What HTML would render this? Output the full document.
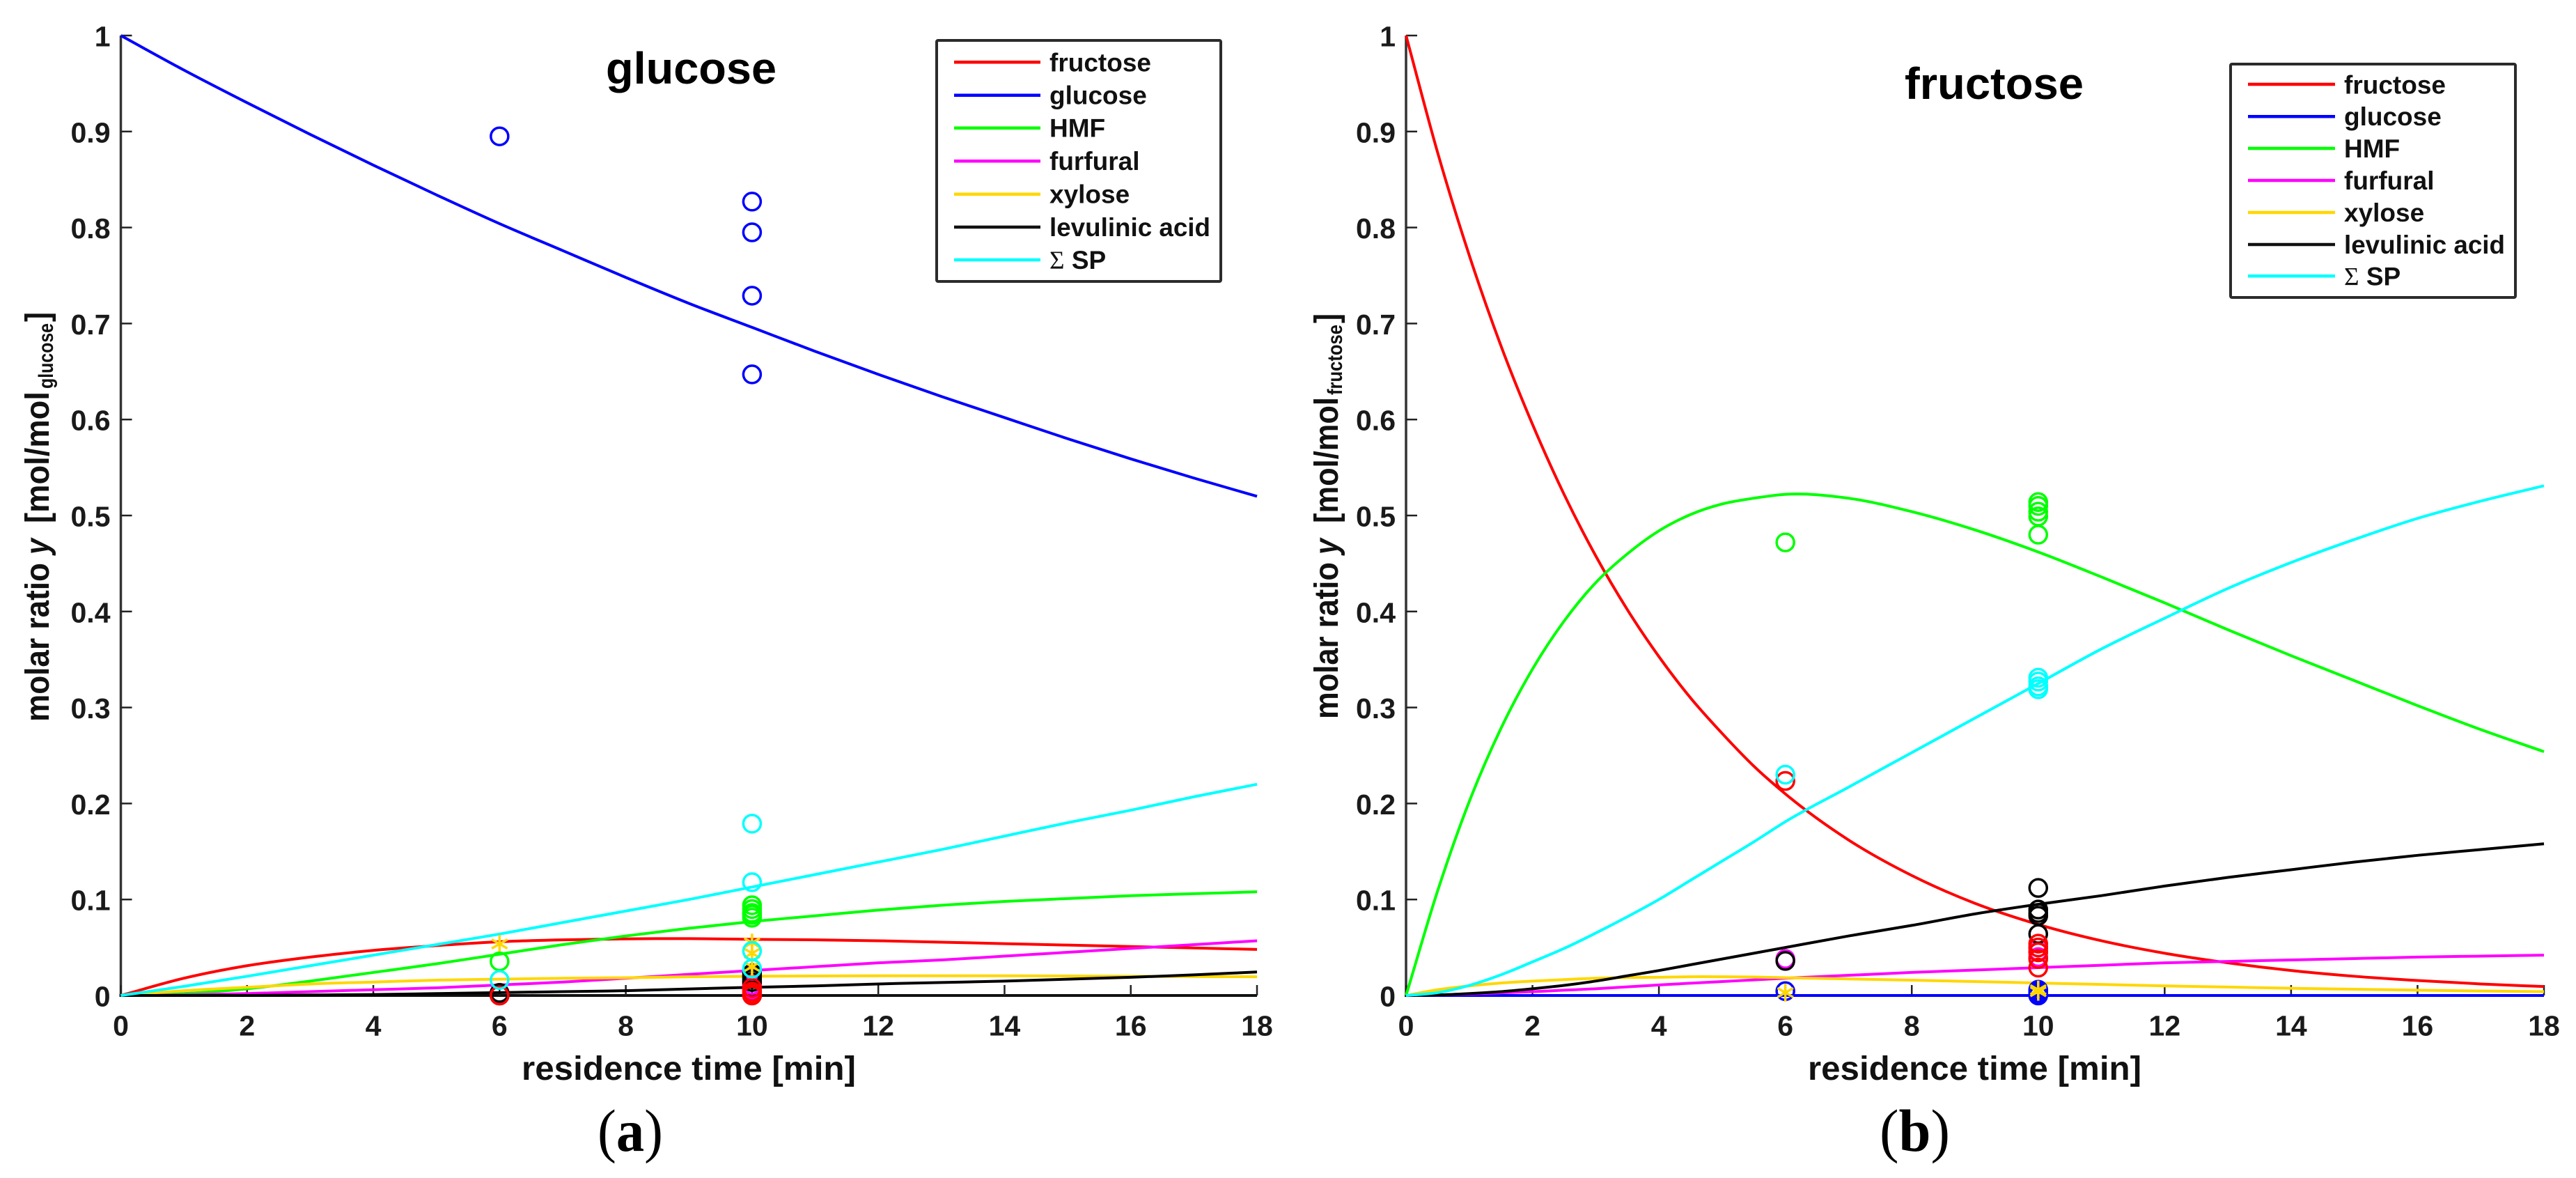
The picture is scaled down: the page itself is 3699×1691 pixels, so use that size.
<!DOCTYPE html>
<html lang="en">
<head>
<meta charset="utf-8">
<title>Molar ratio versus residence time: glucose and fructose</title>
<style>
html,body{margin:0;padding:0;background:#fff;}
svg{display:block;}
text{font-family:"Liberation Sans",sans-serif;font-weight:bold;fill:#111;}
.leg{font-size:37px;}
.title{font-size:64px;fill:#000;}
.axt{font-size:48px;}
.cap{font-family:"Liberation Serif",serif;font-size:86px;fill:#000;font-weight:normal;}
.cap .b{font-weight:bold;}
.tick{font-size:41px;fill:#1a1a1a;}
.sig{font-family:"Liberation Serif",serif;font-weight:normal;}
.legbox{fill:#fff;stroke:#2b2b2b;stroke-width:4;}
.legline{stroke-width:4.5;}
</style>
</head>
<body>
<svg id="fig" xmlns="http://www.w3.org/2000/svg" width="3699" height="1691" viewBox="0 0 3699 1691">
<rect width="3699" height="1691" fill="#fff"/>
<g id="panel-a"></g>
<g id="panel-b"></g>

<text class="title" x="870" y="120" textLength="245" lengthAdjust="spacingAndGlyphs">glucose</text>
<text class="title" x="2735" y="142" textLength="257" lengthAdjust="spacingAndGlyphs">fructose</text>

<text class="axt" x="749" y="1550" textLength="480" lengthAdjust="spacingAndGlyphs">residence time [min]</text>
<text class="axt" x="2596" y="1550" textLength="479" lengthAdjust="spacingAndGlyphs">residence time [min]</text>

<g>
<text class="axt" transform="translate(70,1036) rotate(-90)" textLength="228" lengthAdjust="spacingAndGlyphs">molar ratio</text>
<text class="axt" font-style="italic" transform="translate(70,796) rotate(-90)" textLength="23" lengthAdjust="spacingAndGlyphs">y</text>
<text class="axt" transform="translate(70,751) rotate(-90)" textLength="189" lengthAdjust="spacingAndGlyphs">[mol/mol</text>
<text transform="translate(76,558) rotate(-90)" font-size="30" textLength="94" lengthAdjust="spacingAndGlyphs">glucose</text>
<text class="axt" transform="translate(70,462) rotate(-90)" textLength="14" lengthAdjust="spacingAndGlyphs">]</text>
</g>
<g>
<text class="axt" transform="translate(1921,1032) rotate(-90)" textLength="225" lengthAdjust="spacingAndGlyphs">molar ratio</text>
<text class="axt" font-style="italic" transform="translate(1921,796) rotate(-90)" textLength="23" lengthAdjust="spacingAndGlyphs">y</text>
<text class="axt" transform="translate(1921,751) rotate(-90)" textLength="181" lengthAdjust="spacingAndGlyphs">[mol/mol</text>
<text transform="translate(1927,567) rotate(-90)" font-size="30" textLength="101" lengthAdjust="spacingAndGlyphs">fructose</text>
<text class="axt" transform="translate(1921,464) rotate(-90)" textLength="14" lengthAdjust="spacingAndGlyphs">]</text>
</g>

<g>
<rect class="legbox" x="1345" y="58" width="408" height="346" rx="2"/>
<g><line class="legline" x1="1370" x2="1494" y1="89.3" y2="89.3" stroke="#ff0000"/><text class="leg" x="1507" y="102.5">fructose</text></g>
<g><line class="legline" x1="1370" x2="1494" y1="136.7" y2="136.7" stroke="#0000ff"/><text class="leg" x="1507" y="149.5">glucose</text></g>
<g><line class="legline" x1="1370" x2="1494" y1="183.7" y2="183.7" stroke="#00ff00"/><text class="leg" x="1507" y="196.5">HMF</text></g>
<g><line class="legline" x1="1370" x2="1494" y1="231.3" y2="231.3" stroke="#ff00ff"/><text class="leg" x="1507" y="244">furfural</text></g>
<g><line class="legline" x1="1370" x2="1494" y1="278.7" y2="278.7" stroke="#ffd700"/><text class="leg" x="1507" y="291.5">xylose</text></g>
<g><line class="legline" x1="1370" x2="1494" y1="326" y2="326" stroke="#111"/><text class="leg" x="1507" y="339" textLength="231" lengthAdjust="spacingAndGlyphs">levulinic acid</text></g>
<g><line class="legline" x1="1370" x2="1494" y1="373" y2="373" stroke="#00ffff"/><text class="leg" x="1507" y="386"><tspan class="sig">Σ</tspan> SP</text></g>
</g>

<g>
<rect class="legbox" x="3203" y="92" width="409" height="335" rx="2"/>
<g><line class="legline" x1="3228" x2="3353" y1="121" y2="121" stroke="#ff0000"/><text class="leg" x="3366" y="134.5">fructose</text></g>
<g><line class="legline" x1="3228" x2="3353" y1="167.3" y2="167.3" stroke="#0000ff"/><text class="leg" x="3366" y="180">glucose</text></g>
<g><line class="legline" x1="3228" x2="3353" y1="213" y2="213" stroke="#00ff00"/><text class="leg" x="3366" y="226">HMF</text></g>
<g><line class="legline" x1="3228" x2="3353" y1="259" y2="259" stroke="#ff00ff"/><text class="leg" x="3366" y="272">furfural</text></g>
<g><line class="legline" x1="3228" x2="3353" y1="305" y2="305" stroke="#ffd700"/><text class="leg" x="3366" y="318">xylose</text></g>
<g><line class="legline" x1="3228" x2="3353" y1="351" y2="351" stroke="#111"/><text class="leg" x="3366" y="364" textLength="231" lengthAdjust="spacingAndGlyphs">levulinic acid</text></g>
<g><line class="legline" x1="3228" x2="3353" y1="396.3" y2="396.3" stroke="#00ffff"/><text class="leg" x="3366" y="409.5"><tspan class="sig">Σ</tspan> SP</text></g>
</g>

<text class="cap" x="858" y="1652" textLength="94" lengthAdjust="spacingAndGlyphs">(<tspan class="b">a</tspan>)</text>
<text class="cap" x="2699" y="1652" textLength="101" lengthAdjust="spacingAndGlyphs">(<tspan class="b">b</tspan>)</text>
</svg>

<script>
// ---- axis tick data ----
const xTickValues = [0, 2, 4, 6, 8, 10, 12, 14, 16, 18];
const xTickLabels = ['0', '2', '4', '6', '8', '10', '12', '14', '16', '18'];
const yTickValues = [0, 0.1, 0.2, 0.3, 0.4, 0.5, 0.6, 0.7, 0.8, 0.9, 1];
const yTickLabels = ['0', '0.1', '0.2', '0.3', '0.4', '0.5', '0.6', '0.7', '0.8', '0.9', '1'];

// ---- panel (a) glucose feed: model curves ----
const aTimes = [0, 1, 2, 3, 4, 5, 6, 7, 8, 9, 10, 11, 12, 13, 14, 15, 16, 17, 18];
const aFructose = [0, 0.018, 0.031, 0.040, 0.047, 0.052, 0.056, 0.058, 0.059, 0.0592, 0.0585, 0.058, 0.057, 0.0555, 0.054, 0.0525, 0.051, 0.0495, 0.048];
const aGlucose = [1, 0.964, 0.930, 0.897, 0.865, 0.834, 0.804, 0.776, 0.748, 0.721, 0.696, 0.671, 0.647, 0.624, 0.602, 0.580, 0.559, 0.539, 0.520];
const aHmf = [0, 0.002, 0.007, 0.015, 0.024, 0.033, 0.043, 0.053, 0.062, 0.070, 0.077, 0.083, 0.089, 0.094, 0.098, 0.101, 0.104, 0.106, 0.108];
const aFurfural = [0, 0.0005, 0.002, 0.004, 0.006, 0.008, 0.011, 0.014, 0.018, 0.022, 0.026, 0.030, 0.034, 0.037, 0.041, 0.045, 0.049, 0.053, 0.057];
const aXylose = [0, 0.005, 0.0085, 0.012, 0.014, 0.016, 0.017, 0.018, 0.0185, 0.0195, 0.020, 0.0203, 0.0205, 0.0205, 0.0205, 0.0203, 0.020, 0.0197, 0.0195];
const aLevulinic = [0, 0, 0, 0.0005, 0.001, 0.002, 0.003, 0.004, 0.005, 0.0068, 0.0085, 0.010, 0.012, 0.0135, 0.015, 0.017, 0.019, 0.0215, 0.0245];
const aSumSp = [0, 0.0095, 0.020, 0.031, 0.042, 0.053, 0.064, 0.076, 0.088, 0.100, 0.113, 0.126, 0.139, 0.152, 0.166, 0.180, 0.193, 0.207, 0.220];

// ---- panel (a) measured points, one list per residence time ----
const observationTimes = [6, 10];
const aObsFurfural = [[0.002], [0.011, 0.006]];
const aObsLevulinic = [[0.0027, 0.0], [0.023, 0.020, 0.017, 0.014]];
const aObsGlucose = [[0.895], [0.827, 0.795, 0.729, 0.647]];
const aObsXylose = [[0.0537], [0.055, 0.044, 0.030]];
const aObsFructose = [[0.0], [0.008, 0.004, 0.0015, 0]];
const aObsHmf = [[0.0355], [0.094, 0.090, 0.086, 0.084, 0.081]];
const aObsSumSp = [[0.0162], [0.179, 0.118, 0.0464, 0.028]];

// ---- panel (b) fructose feed: model curves ----
const bTimes = [0, 0.5, 1, 1.5, 2, 2.5, 3, 3.5, 4, 4.5, 5, 5.5, 6, 7, 8, 9, 10, 11, 12, 13, 14, 15, 16, 17, 18];
const bFructose = [1, 0.878, 0.771, 0.677, 0.595, 0.522, 0.458, 0.402, 0.353, 0.310, 0.273, 0.239, 0.210, 0.162, 0.125, 0.096, 0.074, 0.057, 0.044, 0.034, 0.026, 0.020, 0.0156, 0.012, 0.0093];
const bGlucose = [0, 0, 0, 0, 0, 0, 0, 0, 0, 0, 0, 0, 0, 0, 0, 0, 0, 0, 0, 0, 0, 0, 0, 0, 0];
const bHmf = [0, 0.109, 0.202, 0.278, 0.340, 0.390, 0.430, 0.460, 0.484, 0.501, 0.512, 0.518, 0.522, 0.518, 0.504, 0.485, 0.462, 0.436, 0.409, 0.381, 0.354, 0.328, 0.302, 0.277, 0.254];
const bFurfural = [0, 0.0005, 0.0015, 0.0028, 0.004, 0.0055, 0.007, 0.009, 0.011, 0.0128, 0.0145, 0.0162, 0.018, 0.021, 0.024, 0.0265, 0.029, 0.0315, 0.034, 0.0355, 0.037, 0.0385, 0.040, 0.041, 0.042];
const bXylose = [0, 0.006, 0.010, 0.013, 0.015, 0.0165, 0.018, 0.0187, 0.019, 0.0195, 0.0195, 0.0192, 0.0185, 0.0172, 0.016, 0.0145, 0.013, 0.0115, 0.010, 0.0088, 0.0075, 0.0065, 0.0055, 0.0047, 0.004];
const bLevulinic = [0, 0.0005, 0.002, 0.004, 0.007, 0.0105, 0.015, 0.0205, 0.026, 0.032, 0.038, 0.044, 0.050, 0.062, 0.073, 0.085, 0.095, 0.104, 0.114, 0.123, 0.131, 0.139, 0.146, 0.152, 0.158];
const bSumSp = [0, 0.003, 0.0105, 0.0215, 0.035, 0.049, 0.065, 0.082, 0.100, 0.120, 0.140, 0.160, 0.181, 0.217, 0.253, 0.289, 0.325, 0.361, 0.393, 0.424, 0.451, 0.475, 0.497, 0.515, 0.531];

// ---- panel (b) measured points ----
const bObsFurfural = [[0.038], [0.050, 0.046, 0.040]];
const bObsLevulinic = [[0.036], [0.112, 0.0895, 0.086, 0.083, 0.064]];
const bObsGlucose = [[0.0045], [0.006, 0.004, 0.002, 0.001, 0]];
const bObsXylose = [[0.003], [0.006, 0.004]];
const bObsFructose = [[0.2235], [0.054, 0.050, 0.045, 0.038, 0.029]];
const bObsHmf = [[0.472], [0.514, 0.510, 0.504, 0.499, 0.480]];
const bObsSumSp = [[0.230], [0.331, 0.327, 0.322, 0.319]];

// ---- series colours ----
const colorFructose = '#ff0000';
const colorGlucose = '#0000ff';
const colorHmf = '#00ff00';
const colorFurfural = '#ff00ff';
const colorXylose = '#ffd700';
const colorLevulinic = '#000000';
const colorSumSp = '#00ffff';

const SVGNS = 'http://www.w3.org/2000/svg';

function mk(parent, tag, attrs) {
  const el = document.createElementNS(SVGNS, tag);
  for (const k in attrs) el.setAttribute(k, attrs[k]);
  parent.appendChild(el);
  return el;
}

function smoothPath(xs, ys) {
  // cubic Hermite through the read values, spacing-weighted tangents
  const n = xs.length;
  const slope = [];
  for (let i = 0; i < n; i++) {
    if (i === 0) {
      slope.push((ys[1] - ys[0]) / (xs[1] - xs[0]));
    } else if (i === n - 1) {
      slope.push((ys[n - 1] - ys[n - 2]) / (xs[n - 1] - xs[n - 2]));
    } else {
      const h0 = xs[i] - xs[i - 1], h1 = xs[i + 1] - xs[i];
      const d0 = (ys[i] - ys[i - 1]) / h0, d1 = (ys[i + 1] - ys[i]) / h1;
      slope.push((h1 * d0 + h0 * d1) / (h0 + h1));
    }
  }
  let d = 'M' + xs[0].toFixed(2) + ' ' + ys[0].toFixed(2);
  for (let i = 0; i < n - 1; i++) {
    const h = (xs[i + 1] - xs[i]) / 3;
    d += 'C' + (xs[i] + h).toFixed(2) + ' ' + (ys[i] + slope[i] * h).toFixed(2) + ' ' +
         (xs[i + 1] - h).toFixed(2) + ' ' + (ys[i + 1] - slope[i + 1] * h).toFixed(2) + ' ' +
         xs[i + 1].toFixed(2) + ' ' + ys[i + 1].toFixed(2);
  }
  return d;
}

function drawPanel(panelId, x0, x18, times, curves, observations) {
  const root = document.getElementById(panelId);
  const yTop = 51, yBottom = 1429;
  const xScale = function (t) { return x0 + (x18 - x0) * t / 18; };
  const yScale = function (v) { return yBottom - (yBottom - yTop) * v; };

  // axes
  const yAxis = mk(root, 'line', { x1: x0, x2: x0, y1: yTop, y2: yBottom + 1, stroke: '#333', 'stroke-width': 3.5 });
  
  
  const xAxis = mk(root, 'line', { x1: x0 - 2, x2: x18, y1: yBottom, y2: yBottom, stroke: '#111', 'stroke-width': 4 });
  
  

  xTickValues.forEach(function (v, i) {
    const px = xScale(v);
    const tick = mk(root, 'line', { x1: px, x2: px, y1: yBottom, y2: yBottom - 15, stroke: '#222', 'stroke-width': 2.5 });
    
    
    const label = mk(root, 'text', { x: px, y: 1486.5, 'text-anchor': 'middle', class: 'tick' });
    label.textContent = xTickLabels[i];
    
    
  });

  yTickValues.forEach(function (v, i) {
    const py = yScale(v);
    const tick = mk(root, 'line', { x1: x0, x2: x0 + 16, y1: py, y2: py, stroke: '#222', 'stroke-width': 2.5 });
    
    
    const label = mk(root, 'text', { x: x0 - 15, y: py + 15.5, 'text-anchor': 'end', class: 'tick' });
    label.textContent = yTickLabels[i];
    
    
  });

  // model curves
  curves.forEach(function (c) {
    const xs = times.map(xScale);
    const ys = c.values.map(yScale);
    const path = mk(root, 'path', { d: smoothPath(xs, ys), fill: 'none', stroke: c.color, 'stroke-width': 4, 'stroke-linejoin': 'round' });
    
    
  });

  // measured points
  observations.forEach(function (o) {
    o.values.forEach(function (list, ti) {
      const px = xScale(observationTimes[ti]);
      list.forEach(function (v) {
        const py = yScale(v);
        if (o.star) {
          const g = mk(root, 'g', { stroke: o.color, 'stroke-width': 3.5 });
          
          
          [0, 60, 120].forEach(function (deg) {
            const r = 13, rad = deg * Math.PI / 180;
            mk(g, 'line', { x1: px - r * Math.sin(rad), y1: py - r * Math.cos(rad), x2: px + r * Math.sin(rad), y2: py + r * Math.cos(rad) });
          });
        } else {
          const dot = mk(root, 'circle', { cx: px, cy: py, r: 12.5, fill: 'none', stroke: o.color, 'stroke-width': 3.5 });
          
          
        }
      });
    });
  });
}

drawPanel('panel-a', 173.5, 1805, aTimes, [
  { key: 'fructose', color: colorFructose, values: aFructose },
  { key: 'glucose', color: colorGlucose, values: aGlucose },
  { key: 'hmf', color: colorHmf, values: aHmf },
  { key: 'furfural', color: colorFurfural, values: aFurfural },
  { key: 'xylose', color: colorXylose, values: aXylose },
  { key: 'levulinic-acid', color: colorLevulinic, values: aLevulinic },
  { key: 'sum-sp', color: colorSumSp, values: aSumSp }
], [
  { key: 'furfural', color: colorFurfural, values: aObsFurfural },
  { key: 'levulinic-acid', color: colorLevulinic, values: aObsLevulinic },
  { key: 'glucose', color: colorGlucose, values: aObsGlucose },
  { key: 'xylose', color: colorXylose, values: aObsXylose, star: true },
  { key: 'fructose', color: colorFructose, values: aObsFructose },
  { key: 'hmf', color: colorHmf, values: aObsHmf },
  { key: 'sum-sp', color: colorSumSp, values: aObsSumSp }
]);

drawPanel('panel-b', 2019, 3653, bTimes, [
  { key: 'fructose', color: colorFructose, values: bFructose },
  { key: 'glucose', color: colorGlucose, values: bGlucose },
  { key: 'hmf', color: colorHmf, values: bHmf },
  { key: 'furfural', color: colorFurfural, values: bFurfural },
  { key: 'xylose', color: colorXylose, values: bXylose },
  { key: 'levulinic-acid', color: colorLevulinic, values: bLevulinic },
  { key: 'sum-sp', color: colorSumSp, values: bSumSp }
], [
  { key: 'furfural', color: colorFurfural, values: bObsFurfural },
  { key: 'levulinic-acid', color: colorLevulinic, values: bObsLevulinic },
  { key: 'glucose', color: colorGlucose, values: bObsGlucose },
  { key: 'xylose', color: colorXylose, values: bObsXylose, star: true },
  { key: 'fructose', color: colorFructose, values: bObsFructose },
  { key: 'hmf', color: colorHmf, values: bObsHmf },
  { key: 'sum-sp', color: colorSumSp, values: bObsSumSp }
]);
</script>
</body>
</html>
